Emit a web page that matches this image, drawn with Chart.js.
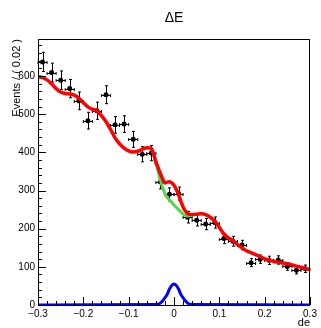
<!DOCTYPE html>
<html>
<head>
<meta charset="utf-8">
<script src="https://cdn.jsdelivr.net/npm/chart.js@4.4.1/dist/chart.umd.min.js"></script>
<style>
  html, body { margin: 0; padding: 0; background: #fff; }
</style>
</head>
<body>
<canvas id="deChart" width="321" height="328"></canvas>
<script>
// data points (bin centres, width 0.02)
const binCenters = [-0.29, -0.27, -0.25, -0.23, -0.21, -0.19, -0.17, -0.15, -0.13, -0.11,
                    -0.09, -0.07, -0.05, -0.03, -0.01, 0.01, 0.03, 0.05, 0.07, 0.09,
                    0.11, 0.13, 0.15, 0.17, 0.19, 0.21, 0.23, 0.25, 0.27, 0.29];
const counts = [637, 609, 589, 567, 535, 483, 509, 551, 472, 474,
                434, 395, 398, 322, 290, 292, 230, 222, 212, 216,
                174, 167, 157, 111, 120, 117, 118, 101, 91, 95];
const binHalfWidth = 0.01;

// total fit (red)
const redX = [-0.30, -0.29, -0.28, -0.27, -0.26, -0.25, -0.24, -0.23, -0.22, -0.21,
              -0.20, -0.19, -0.18, -0.17, -0.16, -0.15, -0.14, -0.13, -0.12, -0.11,
              -0.10, -0.09, -0.08, -0.07, -0.06, -0.05, -0.045, -0.04, -0.035, -0.03,
              -0.025, -0.02, -0.015, -0.01, -0.005, 0, 0.005, 0.01, 0.015, 0.02,
              0.025, 0.03, 0.04, 0.05, 0.06, 0.07, 0.08, 0.09, 0.10, 0.11,
              0.12, 0.13, 0.14, 0.15, 0.16, 0.17, 0.18, 0.19, 0.20, 0.21,
              0.22, 0.23, 0.24, 0.25, 0.26, 0.27, 0.28, 0.29, 0.30];
const redY = [598, 596, 590, 580, 567, 558, 554, 553, 550, 542,
              530, 519, 513, 509, 496, 480, 460, 438, 422, 411,
              404, 401, 403, 408, 412, 410, 395, 375, 360, 344,
              330, 320, 322, 323, 320, 314, 303, 290, 272, 257,
              246, 240, 237, 238, 239, 237, 230, 220, 203, 186,
              176, 169, 158, 150, 142, 137, 132, 127, 121, 118,
              114, 112, 110, 108, 105, 102, 99, 96, 93];

// background (green), only where it leaves the total
const greenX = [-0.05, -0.045, -0.04, -0.035, -0.03, -0.025, -0.02, -0.015, -0.01, -0.005,
                0, 0.005, 0.01, 0.015, 0.02, 0.025, 0.03, 0.035, 0.04];
const greenY = [410, 395, 372, 350, 326, 308, 292, 282, 275, 269,
                262, 256, 250, 244, 238, 235, 233, 234, 237];

// signal (blue)
const blueX = [-0.30, -0.04, -0.035, -0.03, -0.025, -0.02, -0.015, -0.01, -0.005, 0,
               0.005, 0.01, 0.015, 0.02, 0.025, 0.03, 0.035, 0.04, 0.30];
const blueY = [0, 1, 2, 5, 11, 19, 28, 42, 51, 55,
               51, 42, 28, 19, 11, 5, 2, 1, 0];

const xTicks = [-0.3, -0.2, -0.1, 0, 0.1, 0.2, 0.3];
const xTickLabels = ["\u22120.3", "\u22120.2", "\u22120.1", "0", "0.1", "0.2", "0.3"];
const yTicks = [0, 100, 200, 300, 400, 500, 600];
const yMax = 697;

const FONT = "'Liberation Sans', Arial, Helvetica, sans-serif";

function toPoints(xs, ys) {
    return xs.map((x, i) => ({ x: x, y: ys[i] }));
}

// error bars, frame, inward ticks and titles (ROOT style)
const rootStyle = {
    id: "rootStyle",
    beforeDatasetsDraw(chart) {
        const ctx = chart.ctx;
        const xs = chart.scales.x, ys = chart.scales.y;
        ctx.save();
        ctx.strokeStyle = "#000";
        ctx.lineWidth = 1;
        binCenters.forEach((c, i) => {
            const n = counts[i];
            const err = Math.sqrt(n);
            const px = Math.round(xs.getPixelForValue(c)) + 0.5;
            const py = Math.round(ys.getPixelForValue(n)) + 0.5;
            const top = ys.getPixelForValue(n + err);
            const bot = ys.getPixelForValue(n - err);
            const l = xs.getPixelForValue(c - binHalfWidth);
            const r = xs.getPixelForValue(c + binHalfWidth);
            ctx.beginPath();
            ctx.moveTo(px, top); ctx.lineTo(px, bot);
            ctx.moveTo(px - 1.5, top); ctx.lineTo(px + 1.5, top);
            ctx.moveTo(px - 1.5, bot); ctx.lineTo(px + 1.5, bot);
            ctx.moveTo(l, py); ctx.lineTo(r, py);
            ctx.moveTo(l, py - 1.5); ctx.lineTo(l, py + 1.5);
            ctx.moveTo(r, py - 1.5); ctx.lineTo(r, py + 1.5);
            ctx.stroke();
        });
        ctx.restore();
    },
    afterDraw(chart) {
        const ctx = chart.ctx;
        const a = chart.chartArea;
        const xs = chart.scales.x, ys = chart.scales.y;
        ctx.save();
        ctx.strokeStyle = "#000";
        ctx.lineWidth = 1;
        ctx.strokeRect(Math.round(a.left) + 0.5, Math.round(a.top) + 0.5,
                       Math.round(a.right - a.left) - 1, Math.round(a.bottom - a.top));

        ctx.beginPath();
        // y ticks
        for (let v = 0; v <= yMax; v += 20) {
            const py = Math.round(ys.getPixelForValue(v)) + 0.5;
            const len = (v % 100 === 0) ? 8 : 4;
            ctx.moveTo(a.left, py); ctx.lineTo(a.left + len, py);
        }
        // x ticks
        for (let k = -15; k <= 15; k++) {
            const px = Math.round(xs.getPixelForValue(k * 0.02)) + 0.5;
            const len = (k % 5 === 0) ? 8 : 4;
            ctx.moveTo(px, a.bottom); ctx.lineTo(px, a.bottom - len);
        }
        ctx.stroke();

        ctx.fillStyle = "#000";
        // title
        ctx.font = "14px " + FONT;
        ctx.textAlign = "center";
        ctx.textBaseline = "middle";
        ctx.fillText("\u0394E", (a.left + a.right) / 2, 18);

        // x title
        ctx.font = "11px " + FONT;
        ctx.textAlign = "right";
        ctx.fillText("de", a.right, 323);

        // y title
        ctx.translate(17, a.top);
        ctx.rotate(-Math.PI / 2);
        ctx.textAlign = "right";
        ctx.fillText("Events / ( 0.02 )", 0, 0);
        ctx.restore();
    }
};

const chart = new Chart(document.getElementById("deChart").getContext("2d"), {
    type: "line",
    data: {
        datasets: [
            {
                label: "signal",
                data: toPoints(blueX, blueY),
                borderColor: "#0000ff",
                borderWidth: 3,
                pointRadius: 0,
                cubicInterpolationMode: "monotone",
                order: 0
            },
            {
                label: "total",
                data: toPoints(redX, redY),
                borderColor: "#ff0000",
                borderWidth: 3.5,
                pointRadius: 0,
                cubicInterpolationMode: "monotone",
                order: 1
            },
            {
                label: "background",
                data: toPoints(greenX, greenY),
                borderColor: "#4fd64a",
                borderWidth: 3,
                pointRadius: 0,
                cubicInterpolationMode: "monotone",
                order: 2
            },
            {
                label: "data",
                data: toPoints(binCenters, counts),
                showLine: false,
                pointRadius: 2.5,
                pointBackgroundColor: "#000",
                pointBorderColor: "#000",
                pointBorderWidth: 0,
                order: 3
            }
        ]
    },
    options: {
        responsive: false,
        devicePixelRatio: 1,
        animation: false,
        events: [],
        layout: { padding: { top: 39, right: 11, left: 0, bottom: 0 } },
        plugins: {
            legend: { display: false },
            title: { display: false },
            tooltip: { enabled: false }
        },
        scales: {
            x: {
                type: "linear",
                min: -0.3,
                max: 0.3,
                afterBuildTicks: (scale) => { scale.ticks = xTicks.map(v => ({ value: v })); },
                afterFit: (scale) => { scale.height = 23; },
                ticks: {
                    color: "#000",
                    font: { family: FONT, size: 10 },
                    padding: 3,
                    maxRotation: 0,
                    autoSkip: false,
                    callback: (v, i) => xTickLabels[i]
                },
                grid: { display: false, drawTicks: false },
                border: { display: false }
            },
            y: {
                type: "linear",
                min: 0,
                max: yMax,
                afterBuildTicks: (scale) => { scale.ticks = yTicks.map(v => ({ value: v })); },
                afterFit: (scale) => { scale.width = 38; },
                ticks: {
                    color: "#000",
                    font: { family: FONT, size: 10 },
                    padding: 3,
                    autoSkip: false,
                    callback: (v) => String(v)
                },
                grid: { display: false, drawTicks: false },
                border: { display: false }
            }
        }
    },
    plugins: [rootStyle]
});
</script>
</body>
</html>
